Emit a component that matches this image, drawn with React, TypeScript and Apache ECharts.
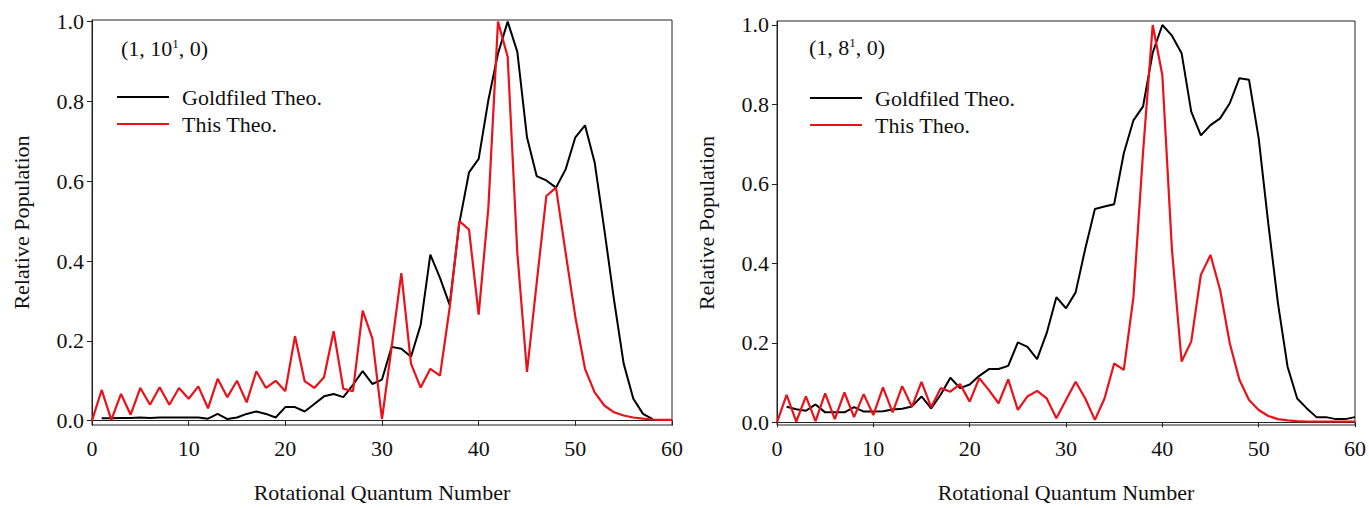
import React, { useEffect, useRef } from "react";
import * as echarts from "echarts";

// Rotational quantum number J = 0..60 (index = J); null = no point
const leftGoldfiled: (number | null)[] = [
  null, 0.006, 0.006, 0.007, 0.007, 0.008, 0.007, 0.008, 0.008, 0.008,
  0.008, 0.008, 0.005, 0.017, 0.004, 0.008, 0.017, 0.023, 0.017, 0.008,
  0.034, 0.034, 0.023, 0.042, 0.061, 0.067, 0.059, 0.090, 0.124, 0.092,
  0.103, 0.185, 0.180, 0.160, 0.240, 0.416, 0.358, 0.290, 0.495, 0.622,
  0.656, 0.803, 0.920, 1.000, 0.924, 0.710, 0.613, 0.602, 0.584, 0.630,
  0.710, 0.740, 0.647, 0.479, 0.303, 0.143, 0.055, 0.017, 0.004, null, null,
];
const leftThis: (number | null)[] = [
  0.0, 0.077, 0.002, 0.067, 0.015, 0.082, 0.040, 0.084, 0.040, 0.082,
  0.055, 0.086, 0.031, 0.105, 0.059, 0.100, 0.046, 0.124, 0.082, 0.100,
  0.074, 0.212, 0.099, 0.082, 0.109, 0.224, 0.080, 0.074, 0.276, 0.206,
  0.004, 0.185, 0.370, 0.143, 0.083, 0.130, 0.113, 0.283, 0.500, 0.479,
  0.266, 0.532, 1.000, 0.912, 0.420, 0.122, 0.345, 0.563, 0.584, 0.420,
  0.260, 0.130, 0.071, 0.038, 0.021, 0.013, 0.008, 0.005, 0.003, 0.002, 0.002,
];
const rightGoldfiled: (number | null)[] = [
  null, 0.039, 0.033, 0.029, 0.045, 0.025, 0.025, 0.025, 0.038, 0.027,
  0.027, 0.028, 0.032, 0.034, 0.040, 0.065, 0.035, 0.070, 0.112, 0.086,
  0.095, 0.117, 0.134, 0.134, 0.142, 0.201, 0.190, 0.159, 0.225, 0.315,
  0.287, 0.327, 0.437, 0.537, 0.543, 0.549, 0.677, 0.760, 0.795, 0.930,
  1.000, 0.973, 0.929, 0.782, 0.722, 0.748, 0.765, 0.803, 0.866, 0.862,
  0.715, 0.500, 0.300, 0.140, 0.060, 0.035, 0.013, 0.013, 0.008, 0.008, 0.013,
];
const rightThis: (number | null)[] = [
  0.0, 0.069, 0.002, 0.065, 0.003, 0.073, 0.008, 0.075, 0.013, 0.071,
  0.018, 0.088, 0.025, 0.091, 0.039, 0.102, 0.038, 0.086, 0.077, 0.096,
  0.052, 0.111, 0.081, 0.048, 0.108, 0.031, 0.065, 0.079, 0.060, 0.010,
  0.056, 0.102, 0.060, 0.006, 0.060, 0.148, 0.132, 0.315, 0.680, 1.000,
  0.874, 0.434, 0.153, 0.203, 0.371, 0.421, 0.333, 0.199, 0.107, 0.056,
  0.031, 0.016, 0.008, 0.005, 0.003, 0.002, 0.002, 0.002, 0.002, 0.002, 0.002,
];

const yTicks = [0, 0.2, 0.4, 0.6, 0.8, 1.0];
const seriesNames = ["Goldfiled Theo.", "This Theo."];
const panelLabels = [
  { base: "(1, 10", sup: "1", tail: ", 0)" },
  { base: "(1, 8", sup: "1", tail: ", 0)" },
];
const xAxisTitle = "Rotational Quantum Number";
const yAxisTitle = "Relative Population";

const FONT = "'Liberation Serif', 'Times New Roman', serif";
const BLACK = "#000000";
const RED = "#ec1018";

const toPairs = (arr: (number | null)[]) =>
  arr.map((v, j) => (v === null ? null : [j, v])).filter((p) => p !== null) as number[][];

export default function App() {
  const ref = useRef<HTMLDivElement>(null);
  useEffect(() => {
    if (!ref.current) return;
    const chart = echarts.init(ref.current, null, { renderer: "svg" });
    const grids = [
      { left: 92, top: 20, width: 580, height: 405 },
      { left: 777, top: 21, width: 579, height: 404 },
    ];
    const yRanges = [
      { min: -0.0108, max: 1.004 },
      { min: -0.0068, max: 1.01 },
    ];
    const axisLine = { show: true, lineStyle: { color: "#222", width: 1 } };
    const xAxes = grids.map((_, i) => ({
      type: "value",
      gridIndex: i,
      min: 0,
      max: 60,
      interval: 10,
      name: xAxisTitle,
      nameLocation: "middle",
      nameGap: 56,
      nameTextStyle: { fontFamily: FONT, fontSize: 22, color: "#111" },
      axisLine,
      axisTick: { show: true, length: 5, lineStyle: { color: "#222" } },
      axisLabel: { fontFamily: FONT, fontSize: 22, color: "#111", margin: 12 },
      splitLine: { show: false },
    }));
    const yAxes = grids.map((_, i) => ({
      type: "value",
      gridIndex: i,
      min: yRanges[i].min,
      max: yRanges[i].max,
      name: yAxisTitle,
      nameLocation: "middle",
      nameGap: 60,
      nameTextStyle: { fontFamily: FONT, fontSize: 22, color: "#111" },
      axisLine,
      axisTick: { show: true, length: 5, lineStyle: { color: "#222" }, customValues: yTicks },
      axisLabel: {
        fontFamily: FONT,
        fontSize: 22,
        color: "#111",
        margin: 8,
        customValues: yTicks,
        formatter: (v: number) => v.toFixed(1),
      },
      splitLine: { show: false },
    }));
    const datasets = [
      [leftGoldfiled, leftThis],
      [rightGoldfiled, rightThis],
    ];
    const series: any[] = [];
    datasets.forEach((pair, i) => {
      pair.forEach((arr, k) => {
        series.push({
          type: "line",
          name: seriesNames[k],
          xAxisIndex: i,
          yAxisIndex: i,
          data: toPairs(arr),
          symbol: "none",
          showSymbol: false,
          lineStyle: { color: k === 0 ? BLACK : RED, width: k === 0 ? 2 : 2.2 },
          itemStyle: { color: k === 0 ? BLACK : RED },
        });
      });
    });
    const legendPos = [
      { left: 117, top: 83.5 },
      { left: 810, top: 84.5 },
    ];
    const legends = legendPos.map((p) => ({
      left: p.left,
      top: p.top,
      orient: "vertical",
      padding: 0,
      icon: "rect",
      data: seriesNames,
      itemWidth: 52,
      itemHeight: 2,
      itemGap: 0,
      selectedMode: false,
      textStyle: { fontFamily: FONT, fontSize: 22, color: "#111", lineHeight: 27, padding: [0, 0, 0, 8] },
    }));
    const labelPos = [
      { x: 121, y: 50 },
      { x: 809, y: 49 },
    ];
    const graphics = panelLabels.map((l, i) => ({
      type: "text",
      left: labelPos[i].x,
      top: labelPos[i].y - 13,
      style: {
        text: `${l.base}{s|${l.sup}}${l.tail}`,
        fontFamily: FONT,
        fontSize: 22,
        fill: "#111",
        rich: {
          s: { fontFamily: FONT, fontSize: 13, fill: "#111", padding: [0, 0, 10, 0] },
        },
      },
    }));
    chart.setOption({
      animation: false,
      backgroundColor: "#ffffff",
      grid: grids.map((g) => ({ ...g, show: true, borderColor: "#222", borderWidth: 1, containLabel: false })),
      xAxis: xAxes,
      yAxis: yAxes,
      legend: legends,
      series,
      graphic: graphics,
    });
    return () => chart.dispose();
  }, []);
  return (
    <div
      ref={ref}
      style={{ position: "fixed", left: 0, top: 0, width: 1369, height: 508, background: "#fff" }}
    />
  );
}
